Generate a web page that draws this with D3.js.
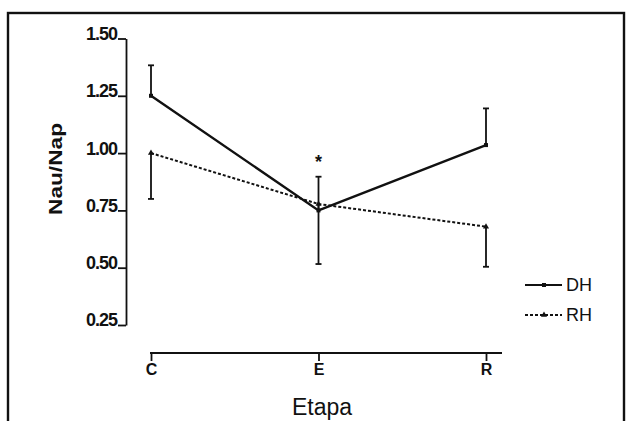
<!DOCTYPE html>
<html>
<head>
<meta charset="utf-8">
<script src="https://cdn.jsdelivr.net/npm/d3@7"></script>
<style>
  body { margin: 0; background: #fff; }
  svg { display: block; font-family: "Liberation Sans", Arial, sans-serif; }
</style>
</head>
<body>
<svg id="chart" width="626" height="421"></svg>
<script>
// data
const etapas = ['C', 'E', 'R'];
const dhMean = [1.25, 0.75, 1.035];
const dhErrUp = [1.383, 0.897, 1.195];
const rhMean = [1.0, 0.778, 0.679];
const rhErrDown = [0.80, 0.516, 0.504];
const yTicks = [0.25, 0.50, 0.75, 1.00, 1.25, 1.50];
const starAt = 'E';

const svg = d3.select('#chart');

// outer frame
svg.append('rect')
  .attr('x', 8).attr('y', 13)
  .attr('width', 616).attr('height', 420)
  .attr('fill', 'none').attr('stroke', '#111').attr('stroke-width', 2.4);

const y = d3.scaleLinear().domain([0.25, 1.5]).range([325, 38.5]);
const x = d3.scalePoint().domain(etapas).range([151, 486]);

// y axis
const yAxis = svg.append('g')
  .attr('transform', 'translate(126,0)')
  .call(d3.axisLeft(y).tickValues(yTicks).tickFormat(d3.format('.2f')).tickSize(8).tickSizeOuter(0));
yAxis.select('.domain').attr('stroke', '#111').attr('stroke-width', 1.8);
yAxis.selectAll('.tick line').attr('stroke', '#111').attr('stroke-width', 1.8);
yAxis.selectAll('.tick text')
  .attr('x', -9).attr('dy', '0.05em')
  .attr('fill', '#111')
  .style('font-size', '18px')
  .style('font-weight', 'bold')
  .style('letter-spacing', '-1px');

// x axis
const xAxis = svg.append('g')
  .attr('transform', 'translate(0,353)')
  .call(d3.axisBottom(x).tickSize(8).tickPadding(3));
xAxis.select('.domain').remove();
xAxis.append('line')
  .attr('x1', x('C') - 1).attr('x2', x('R') + 16)
  .attr('stroke', '#111').attr('stroke-width', 1.8);
xAxis.selectAll('.tick line').attr('stroke', '#111').attr('stroke-width', 1.8);
xAxis.selectAll('.tick text')
  .attr('fill', '#111')
  .style('font-size', '16px')
  .style('font-weight', 'bold');

// axis titles
svg.append('text')
  .attr('transform', 'translate(62,169) rotate(-90)')
  .attr('text-anchor', 'middle')
  .attr('textLength', 92).attr('lengthAdjust', 'spacingAndGlyphs')
  .style('font-size', '19px').style('font-weight', 'bold')
  .attr('fill', '#111')
  .text('Nau/Nap');

svg.append('text')
  .attr('x', 322).attr('y', 415)
  .attr('text-anchor', 'middle')
  .style('font-size', '23px')
  .attr('fill', '#111')
  .text('Etapa');

// error bars
function errBar(xv, y0, y1) {
  svg.append('line')
    .attr('x1', xv).attr('x2', xv).attr('y1', y(y0)).attr('y2', y(y1))
    .attr('stroke', '#111').attr('stroke-width', 1.8);
  svg.append('line')
    .attr('x1', xv - 3).attr('x2', xv + 3).attr('y1', y(y1)).attr('y2', y(y1))
    .attr('stroke', '#111').attr('stroke-width', 1.8);
}
etapas.forEach((e, i) => {
  errBar(x(e), dhMean[i], dhErrUp[i]);
  errBar(x(e), rhMean[i], rhErrDown[i]);
});

const line = d3.line().x((d, i) => x(etapas[i])).y(d => y(d));

// RH dotted
svg.append('path')
  .datum(rhMean)
  .attr('d', line)
  .attr('fill', 'none').attr('stroke', '#111')
  .attr('stroke-width', 2).attr('stroke-dasharray', '3,2');

// DH solid
svg.append('path')
  .datum(dhMean)
  .attr('d', line)
  .attr('fill', 'none').attr('stroke', '#111')
  .attr('stroke-width', 2.4);

// markers
const tri = d3.symbol().type(d3.symbolTriangle).size(16);
const sq = d3.symbol().type(d3.symbolSquare).size(16);
svg.selectAll('.mk-dh').data(dhMean).enter().append('path')
  .attr('d', sq)
  .attr('transform', (d, i) => `translate(${x(etapas[i])},${y(d)})`)
  .attr('fill', '#111');
svg.selectAll('.mk-rh').data(rhMean).enter().append('path')
  .attr('d', tri)
  .attr('transform', (d, i) => `translate(${x(etapas[i])},${y(d)})`)
  .attr('fill', '#111');

// significance star
svg.append('text')
  .attr('x', x(starAt)).attr('y', y(0.897) - 9)
  .attr('text-anchor', 'middle')
  .style('font-size', '18px').style('font-weight', 'bold')
  .attr('fill', '#111')
  .text('*');

// legend
const legend = [
  { name: 'DH', dash: null, sym: sq, y: 285 },
  { name: 'RH', dash: '3,2', sym: tri, y: 315 }
];
const lg = svg.append('g');
legend.forEach(l => {
  lg.append('line')
    .attr('x1', 525).attr('x2', 562).attr('y1', l.y).attr('y2', l.y)
    .attr('stroke', '#111').attr('stroke-width', 2.2)
    .attr('stroke-dasharray', l.dash);
  lg.append('path').attr('d', l.sym)
    .attr('transform', `translate(544,${l.y})`).attr('fill', '#111');
  lg.append('text')
    .attr('x', 566).attr('y', l.y).attr('dy', '0.36em')
    .style('font-size', '18px').attr('fill', '#111')
    .text(l.name);
});
</script>
</body>
</html>
